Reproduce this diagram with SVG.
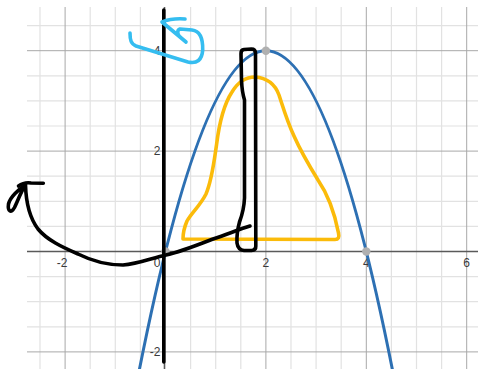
<svg xmlns="http://www.w3.org/2000/svg" width="478" height="369" viewBox="0 0 478 369">
<style>
.minor{stroke:#e2e2e2;stroke-width:1.2}
.major{stroke:#a8a8a8;stroke-width:1}
.axis{stroke:#5a5a5a;stroke-width:1.6}
.lbl{font-family:"Liberation Sans",Arial,sans-serif;font-size:12px;fill:#3a3a3a}
.pen{fill:none;stroke-linecap:round;stroke-linejoin:round}
.blk{stroke:#000;stroke-width:3.6}
.pt{fill:#b0b0b0}
</style>
<rect width="478" height="369" fill="#fff"/>
<g id="grid">
<g class="minor">
<line x1="40" y1="7" x2="40" y2="369"/><line x1="90.2" y1="7" x2="90.2" y2="369"/><line x1="115.3" y1="7" x2="115.3" y2="369"/><line x1="140.4" y1="7" x2="140.4" y2="369"/>
<line x1="190.6" y1="7" x2="190.6" y2="369"/><line x1="215.7" y1="7" x2="215.7" y2="369"/><line x1="240.8" y1="7" x2="240.8" y2="369"/>
<line x1="291" y1="7" x2="291" y2="369"/><line x1="316.1" y1="7" x2="316.1" y2="369"/><line x1="341.2" y1="7" x2="341.2" y2="369"/>
<line x1="391.4" y1="7" x2="391.4" y2="369"/><line x1="416.5" y1="7" x2="416.5" y2="369"/><line x1="441.6" y1="7" x2="441.6" y2="369"/>
<line x1="27" y1="25.6" x2="478" y2="25.6"/><line x1="27" y1="75.8" x2="478" y2="75.8"/><line x1="27" y1="100.9" x2="478" y2="100.9"/><line x1="27" y1="126" x2="478" y2="126"/>
<line x1="27" y1="176.2" x2="478" y2="176.2"/><line x1="27" y1="201.3" x2="478" y2="201.3"/><line x1="27" y1="226.4" x2="478" y2="226.4"/>
<line x1="27" y1="276.6" x2="478" y2="276.6"/><line x1="27" y1="301.7" x2="478" y2="301.7"/><line x1="27" y1="326.8" x2="478" y2="326.8"/>
</g>
<g class="major">
<line x1="65.1" y1="7" x2="65.1" y2="369"/><line x1="265.9" y1="7" x2="265.9" y2="369"/><line x1="366.3" y1="7" x2="366.3" y2="369"/><line x1="466.7" y1="7" x2="466.7" y2="369"/>
<line x1="27" y1="50.7" x2="478" y2="50.7"/><line x1="27" y1="151.1" x2="478" y2="151.1"/><line x1="27" y1="351.9" x2="478" y2="351.9"/>
</g>
<line class="axis" x1="27" y1="251.5" x2="478" y2="251.5"/>
<line class="axis" x1="164.5" y1="7" x2="164.5" y2="369"/>
</g>
<g id="labels" class="lbl">
<text x="62" y="266.5" text-anchor="middle">-2</text>
<text x="157" y="266.5" text-anchor="middle">0</text>
<text x="265.9" y="266.5" text-anchor="middle">2</text>
<text x="366.3" y="266.5" text-anchor="middle">4</text>
<text x="466.7" y="266.5" text-anchor="middle">6</text>
<text x="160.5" y="55" text-anchor="end">4</text>
<text x="160.5" y="155.4" text-anchor="end">2</text>
<text x="160.5" y="356.2" text-anchor="end">-2</text>
</g>
<g id="parabola">
<path d="M137.9,377.1 Q265.9,-275.7 393.9,377.1" fill="none" stroke="#2d70b3" stroke-width="3"/>
<circle class="pt" cx="265.9" cy="50.7" r="4.2"/>
<circle class="pt" cx="366.3" cy="251.5" r="4.2"/>
<circle class="pt" cx="165.5" cy="251.5" r="4.2"/>
</g>
<g id="yellow-shape">
<path class="pen" stroke="#fbbb0a" stroke-width="3.6" d="M183,239 L335,239.5 Q340,239.5 338.5,233 C335,215 329,196 318,180 C310,167 302,154 294,136 C287,121 283,107 279,95 C275,84 268,78 255,77 C246,77 238,82 232,92 C224,104 219,125 216.5,145 C214,162 212,180 206,194 C200,206 192,212 187,221 C184,228 183,234 183,239 Z"/>
</g>
<g id="black-drawings">
<path class="pen blk" d="M163.8,10 L163.8,362"/>
<path class="pen blk" d="M255.8,246 L255.5,53 Q255.3,49 251.5,49 L244,49.5 Q240.8,49.8 241,54 L241.5,80 Q242,92 244.5,100 L244.5,198 Q244,210 239.5,222 Q236.5,233 237,243 Q238,250 244,250.5 L251.5,250.5 Q256,250.2 255.8,246"/>
<path class="pen blk" d="M25.5,185 C26,202 29,217 38,229 C47,240 62,247 78,254 C92,261 105,265 123,265 C138,264 152,258 166,255 C180,252 195,246 213,239 C228,234 240,229 250,226"/>
<path class="pen blk" d="M18.5,186 Q24,182 31,183 L43.3,183.3"/>
<path class="pen blk" d="M25,185.5 C19,189 10,197 8.5,204 C7.5,211 11,214 14.5,207.5 C18,200 21,192 24.5,186.5"/>
</g>
<g id="cyan-arrow">
<path class="pen" stroke="#35bdf0" stroke-width="3.6" d="M130,33 C130,40 131,44 136,46 L188,62 C197,64 202,60 202.7,50 C203,39 200,31 192,30 L180,29 C177,30 177,34 180,37 L186,42 L162,22 Q172,18 185,19"/>
</g>
</svg>
